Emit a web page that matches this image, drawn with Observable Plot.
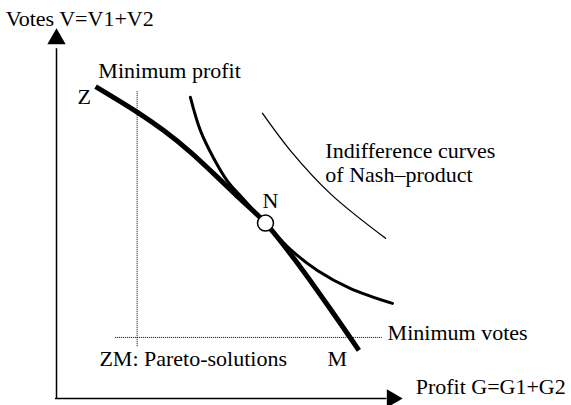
<!DOCTYPE html>
<html>
<head>
<meta charset="utf-8">
<script src="https://cdn.jsdelivr.net/npm/d3@7"></script>
<script src="https://cdn.jsdelivr.net/npm/@observablehq/plot@0.6"></script>
<style>
  html, body { margin: 0; padding: 0; background: #fff; }
  #chart svg { display: block; }
  #chart svg text { font-family: "Liberation Serif", "Times New Roman", serif; }
</style>
</head>
<body>
<div id="chart"></div>
<script>
// Pareto frontier Z–M (profit G, votes V), conceptual units 0..100
const paretoG = [11.3, 23.3, 31.0, 38.7, 45.5, 52.3, 60.4, 70.5, 80.1, 87.4];
const paretoV = [84.3, 77.4, 72.4, 66.6, 60.7, 54.6, 47.4, 35.5, 22.9, 13.0];
// Indifference curve tangent at N
const innerG = [38.7, 41.6, 45.5, 49.3, 53.8, 60.4, 67.6, 75.4, 85.0, 97.1];
const innerV = [81.4, 72.4, 64.8, 58.9, 54.1, 47.4, 40.3, 34.6, 29.7, 25.7];
// Outer indifference curve
const outerG = [59.5, 67.6, 79.2, 95.1];
const outerV = [77.1, 67.0, 55.3, 43.3];
// Nash point
const nashPoint = [{G: 60.4, V: 47.4}];
// Minimum profit / minimum votes thresholds with their drawn extents
const minProfit = [{G: 23.3, from: 14.0, to: 83.0}];
const minVotes = [{V: 16.5, from: 17.1, to: 94.2}];
// Axes
const axisX = [{V: 0, from: -0.3, to: 95.5}];
const axisY = [{G: 0, from: 0, to: 94.5}];
const arrowHeads = [{G: 97.0, V: 0, rot: 90}, {G: 0, V: 97.2, rot: 0}];
// Labels (left-anchored)
const labelText = ["Votes V=V1+V2", "Minimum profit", "Z", "Indifference curves", "of Nash\u2013product", "Minimum votes", "ZM: Pareto-solutions", "M", "Profit G=G1+G2"];
const labelG = [-14.7, 12.1, 6.1, 77.7, 77.7, 95.7, 12.4, 78.3, 103.8];
const labelV = [100.8, 86.5, 79.7, 65.1, 58.6, 15.9, 8.9, 8.9, 1.35];
// Label of the Nash point (centred)
const nashLabel = [{t: "N", G: 61.8, V: 51.6}];

const pareto = paretoG.map((g, i) => ({G: g, V: paretoV[i]}));
const inner = innerG.map((g, i) => ({G: g, V: innerV[i]}));
const outer = outerG.map((g, i) => ({G: g, V: outerV[i]}));
const labels = labelText.map((t, i) => ({t, G: labelG[i], V: labelV[i]}));

const serif = "Liberation Serif, Times New Roman, serif";

const chart = Plot.plot({
  width: 571,
  height: 405,
  margin: 0,
  x: {domain: [0, 100], range: [56, 402], axis: null},
  y: {domain: [0, 100], range: [398, 28], axis: null},
  style: {fontFamily: serif, fontSize: "22px", background: "#fff", color: "#000"},
  marks: [
    Plot.ruleY(axisX, {y: "V", x1: "from", x2: "to", stroke: "black", strokeWidth: 1.5}),
    Plot.ruleX(axisY, {x: "G", y1: "from", y2: "to", stroke: "black", strokeWidth: 1.5}),
    Plot.dot(arrowHeads, {x: "G", y: "V", rotate: "rot", symbol: "triangle", r: 6.8, fill: "black", stroke: "none"}),
    Plot.ruleX(minProfit, {x: "G", y1: "from", y2: "to", stroke: "black", strokeWidth: 1, strokeDasharray: "1,1"}),
    Plot.ruleY(minVotes, {y: "V", x1: "from", x2: "to", stroke: "black", strokeWidth: 1, strokeDasharray: "1,1"}),
    Plot.line(outer, {x: "G", y: "V", curve: "catmull-rom", stroke: "black", strokeWidth: 1.3}),
    Plot.line(inner, {x: "G", y: "V", curve: "catmull-rom", stroke: "black", strokeWidth: 3}),
    Plot.line(pareto, {x: "G", y: "V", curve: "catmull-rom", stroke: "black", strokeWidth: 5, strokeLinecap: "butt"}),
    Plot.dot(nashPoint, {x: "G", y: "V", r: 8, fill: "white", stroke: "black", strokeWidth: 1.5}),
    Plot.text(labels, {x: "G", y: "V", text: "t", textAnchor: "start", lineAnchor: "bottom", fill: "black", fontFamily: serif, fontSize: 22}),
    Plot.text(nashLabel, {x: "G", y: "V", text: "t", textAnchor: "middle", lineAnchor: "bottom", fill: "black", fontFamily: serif, fontSize: 22})
  ]
});
document.getElementById("chart").appendChild(chart);
</script>
</body>
</html>
